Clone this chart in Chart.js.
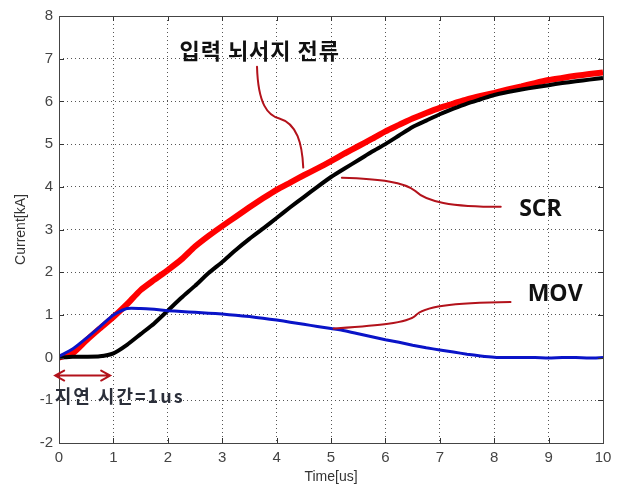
<!DOCTYPE html>
<html>
<head>
<meta charset="utf-8">
<script src="https://cdn.jsdelivr.net/npm/chart.js@4.4.0/dist/chart.umd.min.js"></script>
<style>
html, body { margin: 0; padding: 0; background: #fff; }
#wrap { width: 621px; height: 488px; }
</style>
</head>
<body>
<div id="wrap"><canvas id="c"></canvas></div>
<script>
// time axis [us]
const times = [0, 0.25, 0.5, 0.75, 1, 1.25, 1.5, 1.75, 2, 2.25, 2.5, 2.75, 3, 3.25, 3.5, 3.75, 4, 4.25, 4.5, 4.75,
  5, 5.25, 5.5, 5.75, 6, 6.25, 6.5, 6.75, 7, 7.25, 7.5, 7.75, 8, 8.25, 8.5, 8.75, 9, 9.25, 9.5, 9.75, 10];

// input lightning surge current [kA]
const inputCurrent = [0, 0.1, 0.4, 0.68, 0.95, 1.25, 1.58, 1.82, 2.05, 2.3, 2.6, 2.85, 3.08, 3.3, 3.52, 3.73, 3.93, 4.1, 4.27, 4.43,
  4.6, 4.78, 4.95, 5.12, 5.3, 5.45, 5.6, 5.73, 5.85, 5.95, 6.05, 6.13, 6.2, 6.28, 6.35, 6.43, 6.5, 6.55, 6.6, 6.64, 6.68];

// SCR current [kA]
const scrCurrent = [0, 0.02, 0.02, 0.03, 0.1, 0.3, 0.55, 0.8, 1.1, 1.4, 1.68, 1.98, 2.24, 2.52, 2.78, 3.02, 3.27, 3.52, 3.76, 4.0,
  4.23, 4.43, 4.62, 4.82, 5.0, 5.2, 5.4, 5.55, 5.7, 5.83, 5.95, 6.05, 6.15, 6.22, 6.28, 6.33, 6.38, 6.43, 6.47, 6.51, 6.55];

// MOV current [kA]
const movCurrent = [0.03, 0.2, 0.45, 0.72, 1.0, 1.15, 1.15, 1.13, 1.1, 1.08, 1.06, 1.04, 1.02, 0.99, 0.96, 0.92, 0.88, 0.83, 0.78, 0.73,
  0.68, 0.63, 0.56, 0.49, 0.42, 0.36, 0.29, 0.23, 0.18, 0.13, 0.08, 0.04, 0.01, 0, 0, 0, -0.01, 0, 0, -0.01, 0];

const xTicks = [0, 1, 2, 3, 4, 5, 6, 7, 8, 9, 10];
const yTicks = [-2, -1, 0, 1, 2, 3, 4, 5, 6, 7, 8];

const toPoints = (vals) => times.map((t, i) => ({ x: t, y: vals[i] }));

const noteColor = '#b3121b';

// callouts (curved leaders + labels), drawn in data coordinates
const notesPlugin = {
  id: 'notes',
  afterDraw(chart) {
    const { ctx, chartArea: a } = chart;
    const xs = chart.scales.x, ys = chart.scales.y;
    const px = (t) => xs.getPixelForValue(t);
    const py = (v) => ys.getPixelForValue(v);

    ctx.save();

    // inward tick marks like a MATLAB axis
    ctx.strokeStyle = '#333';
    ctx.lineWidth = 1;
    ctx.beginPath();
    xTicks.forEach((t) => {
      const x = Math.round(px(t)) + 0.5;
      ctx.moveTo(x, a.bottom); ctx.lineTo(x, a.bottom - 5);
      ctx.moveTo(x, a.top); ctx.lineTo(x, a.top + 5);
    });
    yTicks.forEach((v) => {
      const y = Math.round(py(v)) + 0.5;
      ctx.moveTo(a.left, y); ctx.lineTo(a.left + 5, y);
      ctx.moveTo(a.right, y); ctx.lineTo(a.right - 5, y);
    });
    ctx.stroke();

    // plot frame
    ctx.strokeStyle = '#444';
    ctx.strokeRect(Math.round(a.left) + 0.5, Math.round(a.top) + 0.5,
      Math.round(a.right - a.left), Math.round(a.bottom - a.top));

    // leader lines
    ctx.strokeStyle = noteColor;
    ctx.lineWidth = 2;
    ctx.lineCap = 'round';

    // input current leader
    ctx.beginPath();
    ctx.moveTo(px(3.64), py(6.81));
    ctx.bezierCurveTo(px(3.66), py(5.93), px(3.84), py(5.67), px(4.05), py(5.6));
    ctx.bezierCurveTo(px(4.38), py(5.48), px(4.47), py(5.0), px(4.49), py(4.45));
    ctx.stroke();

    // SCR leader
    ctx.beginPath();
    ctx.moveTo(px(5.2), py(4.21));
    ctx.bezierCurveTo(px(5.9), py(4.18), px(6.35), py(4.12), px(6.55), py(3.9));
    ctx.bezierCurveTo(px(6.75), py(3.65), px(7.2), py(3.53), px(8.12), py(3.53));
    ctx.stroke();

    // MOV leader
    ctx.beginPath();
    ctx.moveTo(px(5.05), py(0.68));
    ctx.bezierCurveTo(px(5.8), py(0.75), px(6.4), py(0.8), px(6.55), py(0.98));
    ctx.bezierCurveTo(px(6.7), py(1.2), px(7.2), py(1.28), px(8.3), py(1.3));
    ctx.stroke();

    // delay double arrow
    const ay = py(-0.42), ax0 = px(-0.07), ax1 = px(0.94);
    ctx.beginPath();
    ctx.moveTo(ax0, ay); ctx.lineTo(ax1, ay);
    ctx.moveTo(ax0 + 9, ay - 5); ctx.lineTo(ax0, ay); ctx.lineTo(ax0 + 9, ay + 5);
    ctx.moveTo(ax1 - 9, ay - 5); ctx.lineTo(ax1, ay); ctx.lineTo(ax1 - 9, ay + 5);
    ctx.stroke();

    // labels
    ctx.fillStyle = '#111';
    ctx.textBaseline = 'middle';
    ctx.textAlign = 'center';
    ctx.font = 'bold 22px "Noto Sans CJK KR", "Noto Sans", sans-serif';
    ctx.letterSpacing = '1px';
    ctx.fillText('입력 뇌서지 전류', px(3.69), py(7.2));
    ctx.letterSpacing = '0px';
    ctx.font = 'bold 23px "Open Sans", "Noto Sans", sans-serif';
    ctx.fillText('SCR', px(8.85), py(3.46));
    ctx.fillText('MOV', px(9.12), py(1.47));

    ctx.textAlign = 'left';
    ctx.fillStyle = '#2b2f3a';
    ctx.font = 'bold 18px "Noto Sans CJK KR", "Noto Sans", sans-serif';
    ctx.letterSpacing = '2px';
    ctx.fillText('지연 시간=1us', px(-0.08), py(-0.9));

    ctx.restore();
  }
};

const tickFont = { family: '"Liberation Sans", Arial, sans-serif', size: 15 };

new Chart(document.getElementById('c'), {
  type: 'line',
  data: {
    datasets: [
      { label: '입력 뇌서지 전류', data: toPoints(inputCurrent), borderColor: '#ff0000', borderWidth: 6, order: 3 },
      { label: 'SCR', data: toPoints(scrCurrent), borderColor: '#000000', borderWidth: 4, order: 2 },
      { label: 'MOV', data: toPoints(movCurrent), borderColor: '#0a14c8', borderWidth: 3, order: 1 },
    ],
  },
  options: {
    responsive: true,
    maintainAspectRatio: false,
    animation: false,
    layout: { padding: { left: 0, top: 16, right: 18, bottom: 0 } },
    elements: { point: { radius: 0 }, line: { tension: 0.2 } },
    plugins: { legend: { display: false }, tooltip: { enabled: false } },
    scales: {
      x: {
        type: 'linear',
        min: 0,
        max: 10,
        afterBuildTicks: (s) => { s.ticks = xTicks.map((v) => ({ value: v })); },
        afterFit: (s) => { s.height = 45; },
        ticks: { font: tickFont, color: '#444', padding: 6, maxRotation: 0 },
        grid: { color: '#555', drawTicks: false, lineWidth: 1 },
        border: { display: false, dash: [1, 3] },
        title: { display: true, text: 'Time[us]', font: { family: tickFont.family, size: 14 }, color: '#333', padding: { top: 0, bottom: 2 } },
      },
      y: {
        min: -2,
        max: 8,
        afterBuildTicks: (s) => { s.ticks = yTicks.map((v) => ({ value: v })); },
        afterFit: (s) => { s.width = 59; },
        ticks: { font: tickFont, color: '#444', padding: 6 },
        grid: { color: '#555', drawTicks: false, lineWidth: 1 },
        border: { display: false, dash: [1, 3] },
        title: { display: true, text: 'Current[kA]', font: { family: tickFont.family, size: 14 }, color: '#333', padding: { top: 13, bottom: 0 } },
      },
    },
  },
  plugins: [notesPlugin],
});
</script>
</body>
</html>
